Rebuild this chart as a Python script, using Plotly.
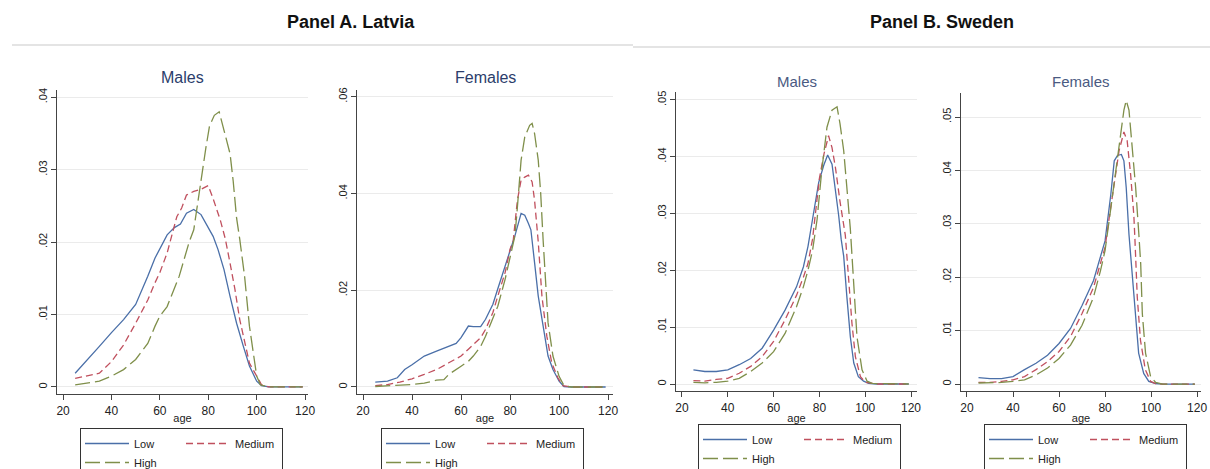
import plotly.graph_objects as go

W, H = 1210, 469
FONT = "Arial, Liberation Sans, sans-serif"

# ---------------- data ----------------
# Panel A. Latvia - Males
lv_m_low_age = [25, 30, 35, 40, 45, 50, 53, 55, 58, 60, 62, 63, 66, 68.5, 71, 74, 77, 80, 82, 84, 86.5, 89, 91.7, 94.5, 97, 100, 102, 105, 110, 119]
lv_m_low = [0.0019, 0.0037, 0.0056, 0.0075, 0.0093, 0.0114, 0.0137, 0.0153, 0.0178, 0.019, 0.0204, 0.021, 0.022, 0.0225, 0.024, 0.0245, 0.0238, 0.022, 0.0208, 0.019, 0.0162, 0.0125, 0.0088, 0.0056, 0.0029, 0.0008, 0.0002, 0, 0, 0]
lv_m_med_age = [25, 30, 35, 40, 45, 50, 55, 58, 60, 63, 65, 67, 69, 71, 74, 77, 80, 82, 85, 87, 89, 91, 93, 95, 97, 100, 102, 105, 119]
lv_m_med = [0.0012, 0.0015, 0.0019, 0.0035, 0.0058, 0.0088, 0.012, 0.0144, 0.0158, 0.0185, 0.021, 0.0235, 0.0247, 0.0265, 0.027, 0.0273, 0.0278, 0.026, 0.023, 0.0205, 0.0171, 0.0135, 0.0093, 0.0061, 0.0033, 0.0015, 0.0003, 0, 0]
lv_m_high_age = [25, 30, 35, 40, 45, 50, 55, 58, 60, 63, 65, 68, 70, 72, 74, 77, 79, 80.5, 82.5, 84.5, 86.5, 89, 90.3, 91.7, 93, 95, 97, 100, 101.5, 105, 119]
lv_m_high = [0.0003, 0.0005, 0.0008, 0.0015, 0.0024, 0.0038, 0.006, 0.0084, 0.0098, 0.0111, 0.0128, 0.0153, 0.0176, 0.0199, 0.0217, 0.0288, 0.033, 0.036, 0.0375, 0.038, 0.0355, 0.0322, 0.0284, 0.0233, 0.0204, 0.0153, 0.0084, 0.0015, 0.0003, 0, 0]

# Panel A. Latvia - Females
lv_f_low_age = [25, 30, 34, 37, 40, 45, 50, 55, 58, 60, 63, 65, 68, 70, 73, 75, 78, 80, 82, 84.5, 86, 87.5, 88.5, 90, 91.5, 93.5, 95.5, 97.5, 100, 102, 105, 119]
lv_f_low = [0.001, 0.0012, 0.0019, 0.0036, 0.0046, 0.0064, 0.0074, 0.0084, 0.009, 0.0102, 0.0126, 0.0125, 0.0125, 0.014, 0.0171, 0.0203, 0.025, 0.0285, 0.0313, 0.0359, 0.0355, 0.0338, 0.0325, 0.0257, 0.0188, 0.0126, 0.0064, 0.0036, 0.0012, 0.0001, 0, 0]
lv_f_med_age = [25, 30, 35, 40, 45, 50, 55, 60, 63, 65, 68, 70, 73, 75, 78, 80, 81.3, 83, 84.5, 86, 87.5, 89, 90, 91.5, 93, 95, 97, 99.5, 101.5, 105, 119]
lv_f_med = [0.0003, 0.0005, 0.001, 0.0017, 0.0026, 0.0036, 0.005, 0.0064, 0.0078, 0.0088, 0.0102, 0.0119, 0.0154, 0.0188, 0.0237, 0.0285, 0.0303, 0.0386, 0.0428, 0.0434, 0.0438, 0.0424, 0.0386, 0.030, 0.0188, 0.0105, 0.005, 0.0019, 0.0003, 0, 0]
lv_f_high_age = [25, 35, 40, 45, 50, 53, 55, 60, 63, 65, 68, 70, 73, 75, 78, 80, 82, 83, 84.5, 86, 88, 89, 90, 91.5, 92.5, 93.5, 94, 95.5, 97.5, 100, 102, 105, 119]
lv_f_high = [0.0001, 0.0003, 0.0005, 0.0008, 0.0014, 0.0015, 0.0026, 0.0043, 0.0053, 0.0064, 0.0084, 0.0105, 0.014, 0.0167, 0.0223, 0.0271, 0.0313, 0.0372, 0.0469, 0.0517, 0.0541, 0.0545, 0.0524, 0.0469, 0.04, 0.0303, 0.0257, 0.0133, 0.0064, 0.0022, 0.0003, 0, 0]

# Panel B. Sweden - Males
se_m_low_age = [25, 30, 35, 40, 45, 50, 55, 60, 65, 70, 73, 75, 77, 79.7, 81.9, 83.6, 85.5, 87, 88.4, 89.5, 90.6, 92, 93.5, 95, 97, 99.3, 101.5, 105, 119]
se_m_low = [0.0025, 0.0022, 0.0022, 0.0025, 0.0034, 0.0045, 0.0063, 0.0095, 0.013, 0.0171, 0.0206, 0.0242, 0.029, 0.0355, 0.0385, 0.0403, 0.0387, 0.0345, 0.0297, 0.0255, 0.0225, 0.0153, 0.0083, 0.0037, 0.0013, 0.0005, 0.0001, 0, 0]
se_m_med_age = [25, 30, 35, 40, 45, 50, 55, 60, 65, 70, 73, 75, 77, 78.5, 80, 82, 84, 85.5, 87, 89, 91.3, 92.8, 94.2, 95.7, 97.9, 100, 105, 119]
se_m_med = [0.0006, 0.0005, 0.0008, 0.001, 0.0019, 0.0031, 0.0048, 0.0075, 0.0113, 0.0156, 0.0188, 0.0212, 0.0255, 0.0305, 0.0362, 0.0405, 0.0437, 0.0416, 0.0381, 0.0321, 0.0262, 0.0183, 0.0107, 0.0048, 0.0013, 0.0003, 0, 0]
se_m_high_age = [25, 30, 35, 40, 45, 50, 55, 60, 65, 70, 73, 75, 77, 79, 81, 83.3, 85.5, 87.7, 89, 90.6, 92, 93.5, 95, 96.4, 98.6, 100.8, 103, 119]
se_m_high = [0.0003, 0.0002, 0.0003, 0.0005, 0.001, 0.0022, 0.0037, 0.0057, 0.0089, 0.0136, 0.0171, 0.02, 0.0235, 0.029, 0.0375, 0.0452, 0.0482, 0.0488, 0.0458, 0.0411, 0.0345, 0.0273, 0.0175, 0.0083, 0.0025, 0.0005, 0.0001, 0]

# Panel B. Sweden - Females
se_f_low_age = [25, 30, 35, 40, 45, 50, 55, 60, 65, 70, 75, 78, 80, 82.5, 84, 85.4, 87.1, 88.2, 89.2, 90.4, 91.8, 93.2, 94.6, 96.8, 99, 102, 105, 119]
se_f_low = [0.0012, 0.001, 0.001, 0.0014, 0.0027, 0.0039, 0.0054, 0.0076, 0.0104, 0.0147, 0.0194, 0.0237, 0.0268, 0.0355, 0.0418, 0.0428, 0.043, 0.0418, 0.0368, 0.028, 0.0206, 0.0126, 0.0058, 0.002, 0.0005, 0.0001, 0, 0]
se_f_med_age = [25, 30, 35, 40, 45, 50, 55, 60, 65, 70, 75, 78, 80, 81.8, 84, 86.1, 88.2, 89.6, 91.1, 92.5, 93, 94, 95.4, 97.5, 99.8, 102, 105, 119]
se_f_med = [0.0003, 0.0003, 0.0005, 0.0008, 0.0014, 0.0027, 0.0042, 0.0061, 0.0089, 0.0132, 0.0181, 0.0225, 0.0256, 0.0311, 0.038, 0.0437, 0.0472, 0.0456, 0.0393, 0.0317, 0.027, 0.0163, 0.0082, 0.0027, 0.0005, 0.0001, 0, 0]
se_f_high_age = [25, 30, 35, 40, 45, 50, 55, 60, 65, 70, 75, 78, 80, 82.5, 84.7, 86.8, 88.2, 89.2, 90.4, 91.8, 93.3, 94.7, 95.5, 96.2, 97.6, 99.8, 102, 105, 119]
se_f_high = [0.0002, 0.0002, 0.0003, 0.0005, 0.0008, 0.0017, 0.003, 0.0048, 0.0073, 0.011, 0.0163, 0.0212, 0.025, 0.0329, 0.0405, 0.0468, 0.0513, 0.0531, 0.0513, 0.045, 0.0368, 0.028, 0.0225, 0.0132, 0.0058, 0.0014, 0.0003, 0, 0]

series_names = ["Low", "Medium", "High"]
x_ticks = [20, 40, 60, 80, 100, 120]
y_ticks_lv_m = [0, 0.01, 0.02, 0.03, 0.04]
y_labels_lv_m = ["0", ".01", ".02", ".03", ".04"]
y_ticks_lv_f = [0, 0.02, 0.04, 0.06]
y_labels_lv_f = ["0", ".02", ".04", ".06"]
y_ticks_se = [0, 0.01, 0.02, 0.03, 0.04, 0.05]
y_labels_se = ["0", ".01", ".02", ".03", ".04", ".05"]
panel_titles = ["Panel A. Latvia", "Panel B. Sweden"]
sub_titles = ["Males", "Females", "Males", "Females"]

# ---------------- styling ----------------
COLORS = ["#4a6fa8", "#c0505e", "#7f8f4a"]
DASHES = ["solid", "7px,4px", "15px,5px"]
GROUPS = ["a", "b", "a"]

panels = [
    dict(data=[(lv_m_low_age, lv_m_low), (lv_m_med_age, lv_m_med), (lv_m_high_age, lv_m_high)],
         px=(57, 308), py=(90, 394), xr=[17.5, 121.2], yr=[-0.00097, 0.041],
         yt=y_ticks_lv_m, yl=y_labels_lv_m, title=sub_titles[0], ty=78, tcol="#2b3d6b", tsize=16,
         leg=(80, 428)),
    dict(data=[(lv_f_low_age, lv_f_low), (lv_f_med_age, lv_f_med), (lv_f_high_age, lv_f_high)],
         px=(357, 613), py=(90, 394), xr=[17.55, 122.0], yr=[-0.00145, 0.0614],
         yt=y_ticks_lv_f, yl=y_labels_lv_f, title=sub_titles[1], ty=78, tcol="#2b3d6b", tsize=16,
         leg=(381, 428)),
    dict(data=[(se_m_low_age, se_m_low), (se_m_med_age, se_m_med), (se_m_high_age, se_m_high)],
         px=(676, 917), py=(92, 391), xr=[17.4, 122.6], yr=[-0.00123, 0.0514],
         yt=y_ticks_se, yl=y_labels_se, title=sub_titles[2], ty=81, tcol="#4a5a82", tsize=15,
         leg=(698, 424)),
    dict(data=[(se_f_low_age, se_f_low), (se_f_med_age, se_f_med), (se_f_high_age, se_f_high)],
         px=(961, 1201), py=(93, 391), xr=[17.4, 121.7], yr=[-0.0013, 0.0545],
         yt=y_ticks_se, yl=y_labels_se, title=sub_titles[3], ty=81, tcol="#4a5a82", tsize=15,
         leg=(984, 424)),
]

fig = go.Figure()
layout = dict(
    width=W, height=H,
    margin=dict(l=0, r=0, t=0, b=0, autoexpand=False),
    paper_bgcolor="white", plot_bgcolor="white",
    font=dict(family=FONT, color="#222"),
    showlegend=True,
    annotations=[], shapes=[],
)

for i, p in enumerate(panels):
    n = "" if i == 0 else str(i + 1)
    xa, ya = "x" + n, "y" + n
    legname = "legend" + n
    for j, (ages, vals) in enumerate(p["data"]):
        fig.add_trace(go.Scatter(
            x=ages, y=vals, mode="lines", name=series_names[j],
            line=dict(color=COLORS[j], width=1.3, dash=DASHES[j]),
            xaxis=xa, yaxis=ya, legend=legname,
            legendgroup=f"p{i}{GROUPS[j]}", hoverinfo="skip",
        ))
    x0, x1 = p["px"][0] / W, p["px"][1] / W
    y0, y1 = 1 - p["py"][1] / H, 1 - p["py"][0] / H
    layout["xaxis" + n] = dict(
        domain=[x0, x1], anchor=ya, range=p["xr"], tickvals=x_ticks,
        showgrid=False, zeroline=False, showline=True, linecolor="#444", linewidth=1.2,
        ticks="outside", ticklen=5, tickcolor="#444", tickwidth=1,
        tickfont=dict(size=12, color="#222", family=FONT),
        title=dict(text="age", font=dict(size=11, color="#222", family=FONT), standoff=0),
    )
    layout["yaxis" + n] = dict(
        domain=[y0, y1], anchor=xa, range=p["yr"], tickvals=p["yt"], ticktext=p["yl"],
        showgrid=True, gridcolor="#ebebeb", gridwidth=1, zeroline=False,
        showline=True, linecolor="#444", linewidth=1.2,
        ticks="outside", ticklen=5, tickcolor="#444", tickwidth=1, tickangle=-90,
        tickfont=dict(size=11, color="#222", family=FONT),
    )
    layout[legname] = dict(
        orientation="h", traceorder="grouped",
        xref="container", yref="container",
        x=p["leg"][0] / W, y=1 - p["leg"][1] / H, xanchor="left", yanchor="top",
        bgcolor="white", bordercolor="#333", borderwidth=1,
        font=dict(size=11, color="#222", family=FONT),
        itemwidth=44, entrywidth=42, tracegroupgap=0,
    )
    layout["annotations"].append(dict(
        text=p["title"], x=(p["px"][0] + p["px"][1]) / 2 / W, y=1 - p["ty"] / H,
        xref="paper", yref="paper", xanchor="center", yanchor="middle", showarrow=False,
        font=dict(size=p["tsize"], color=p["tcol"], family=FONT),
    ))

# panel headings
for txt, cx in zip(panel_titles, [351, 942]):
    layout["annotations"].append(dict(
        text="<b>" + txt + "</b>", x=cx / W, y=1 - 22 / H, xref="paper", yref="paper",
        xanchor="center", yanchor="middle", showarrow=False,
        font=dict(size=18, color="#111", family=FONT),
    ))

# separator lines under headings
layout["shapes"].append(dict(type="line", xref="paper", yref="paper",
                             x0=12 / W, x1=633 / W, y0=1 - 45 / H, y1=1 - 45 / H,
                             line=dict(color="#e4e4e4", width=2)))
layout["shapes"].append(dict(type="line", xref="paper", yref="paper",
                             x0=633 / W, x1=1.0, y0=1 - 47 / H, y1=1 - 47 / H,
                             line=dict(color="#e4e4e4", width=2)))

fig.update_layout(**layout)
fig.write_html("out.html")
